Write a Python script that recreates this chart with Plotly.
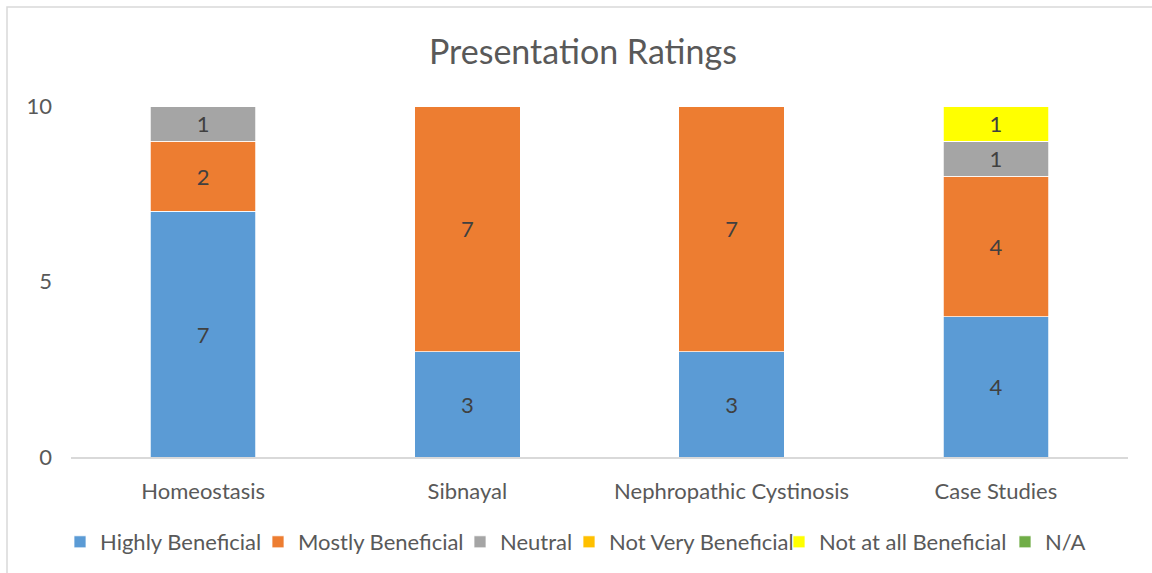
import plotly.graph_objects as go

categories = ["Homeostasis", "Sibnayal", "Nephropathic Cystinosis", "Case Studies"]
series_names = ["Highly Beneficial", "Mostly Beneficial", "Neutral",
                "Not Very Beneficial", "Not at all Beneficial", "N/A"]
highly = [7, 3, 3, 4]
mostly = [2, 7, 7, 4]
neutral = [1, 0, 0, 1]
not_very = [0, 0, 0, 0]
not_at_all = [0, 0, 0, 1]
na = [0, 0, 0, 0]
series_values = [highly, mostly, neutral, not_very, not_at_all, na]
colors = ["#5B9BD5", "#ED7D31", "#A5A5A5", "#FFC000", "#FFFF00", "#70AD47"]
y_ticks = [0, 5, 10]

FONT = "Lato"
FS = 22
W, H = 1152, 573
# left pixel where each legend entry's text starts (layout, not data)
legend_text_px = [100, 298, 500, 609, 819, 1045]

fig = go.Figure()
legend_layouts = {}
for i, (name, vals, col) in enumerate(zip(series_names, series_values, colors)):
    lg = "legend" if i == 0 else f"legend{i + 1}"
    fig.add_trace(go.Bar(
        x=categories, y=vals, name=name, legend=lg,
        marker=dict(color=col, line=dict(color="white", width=0.75)),
        text=[str(v) if v else "" for v in vals],
        textposition="inside", insidetextanchor="middle",
        textfont=dict(family=FONT, size=FS, color="#404040"),
        textangle=0,
    ))
    legend_layouts[lg] = dict(
        orientation="h", xref="container", x=(legend_text_px[i] - 40) / W,
        xanchor="left", yref="container", y=1 - 542 / H, yanchor="middle",
        font=dict(family=FONT, size=FS, color="#595959"),
        itemwidth=30, bgcolor="rgba(0,0,0,0)", borderwidth=0,
    )

fig.update_layout(
    width=W, height=H,
    barmode="stack", bargap=0.6,
    paper_bgcolor="white", plot_bgcolor="white",
    margin=dict(l=71, r=24, t=106, b=116, autoexpand=False),
    font=dict(family=FONT, size=FS, color="#595959"),
    title=dict(text="Presentation Ratings", x=0.506, xanchor="center",
               y=1 - 52 / H, yanchor="middle",
               font=dict(family=FONT, size=34, color="#595959")),
    showlegend=True,
    xaxis=dict(showgrid=False, showline=True, linecolor="#D9D9D9", linewidth=1.5,
               ticks="", ticklabelstandoff=14, tickfont=dict(size=FS, color="#595959")),
    yaxis=dict(range=[0, 10], tickvals=y_ticks, showgrid=False, showline=False,
               zeroline=False, ticks="", ticklabelstandoff=18,
               tickfont=dict(size=FS, color="#595959")),
    **legend_layouts,
)

# chart border (light gray frame) extends past the page edges
fig.add_shape(type="rect", xref="paper", yref="paper",
              x0=(7 - 71) / 1057, x1=1.2, y0=-0.6, y1=(457 - 7) / 351,
              line=dict(color="#D9D9D9", width=1.5), fillcolor="rgba(0,0,0,0)",
              layer="below")

# clipped caption above the chart (cut off at the top edge, as in the source)
fig.add_annotation(text="<b>Figure 4: Presentation Ratings</b>", xref="paper", yref="paper",
                   x=(10 - 71) / 1057, xanchor="left", y=(457 + 3) / 351, yanchor="bottom",
                   showarrow=False, font=dict(family="Liberation Sans", size=13, color="black"))

fig.write_html("out.html", config={"displayModeBar": False},
               post_script="document.body.style.margin='0';")
